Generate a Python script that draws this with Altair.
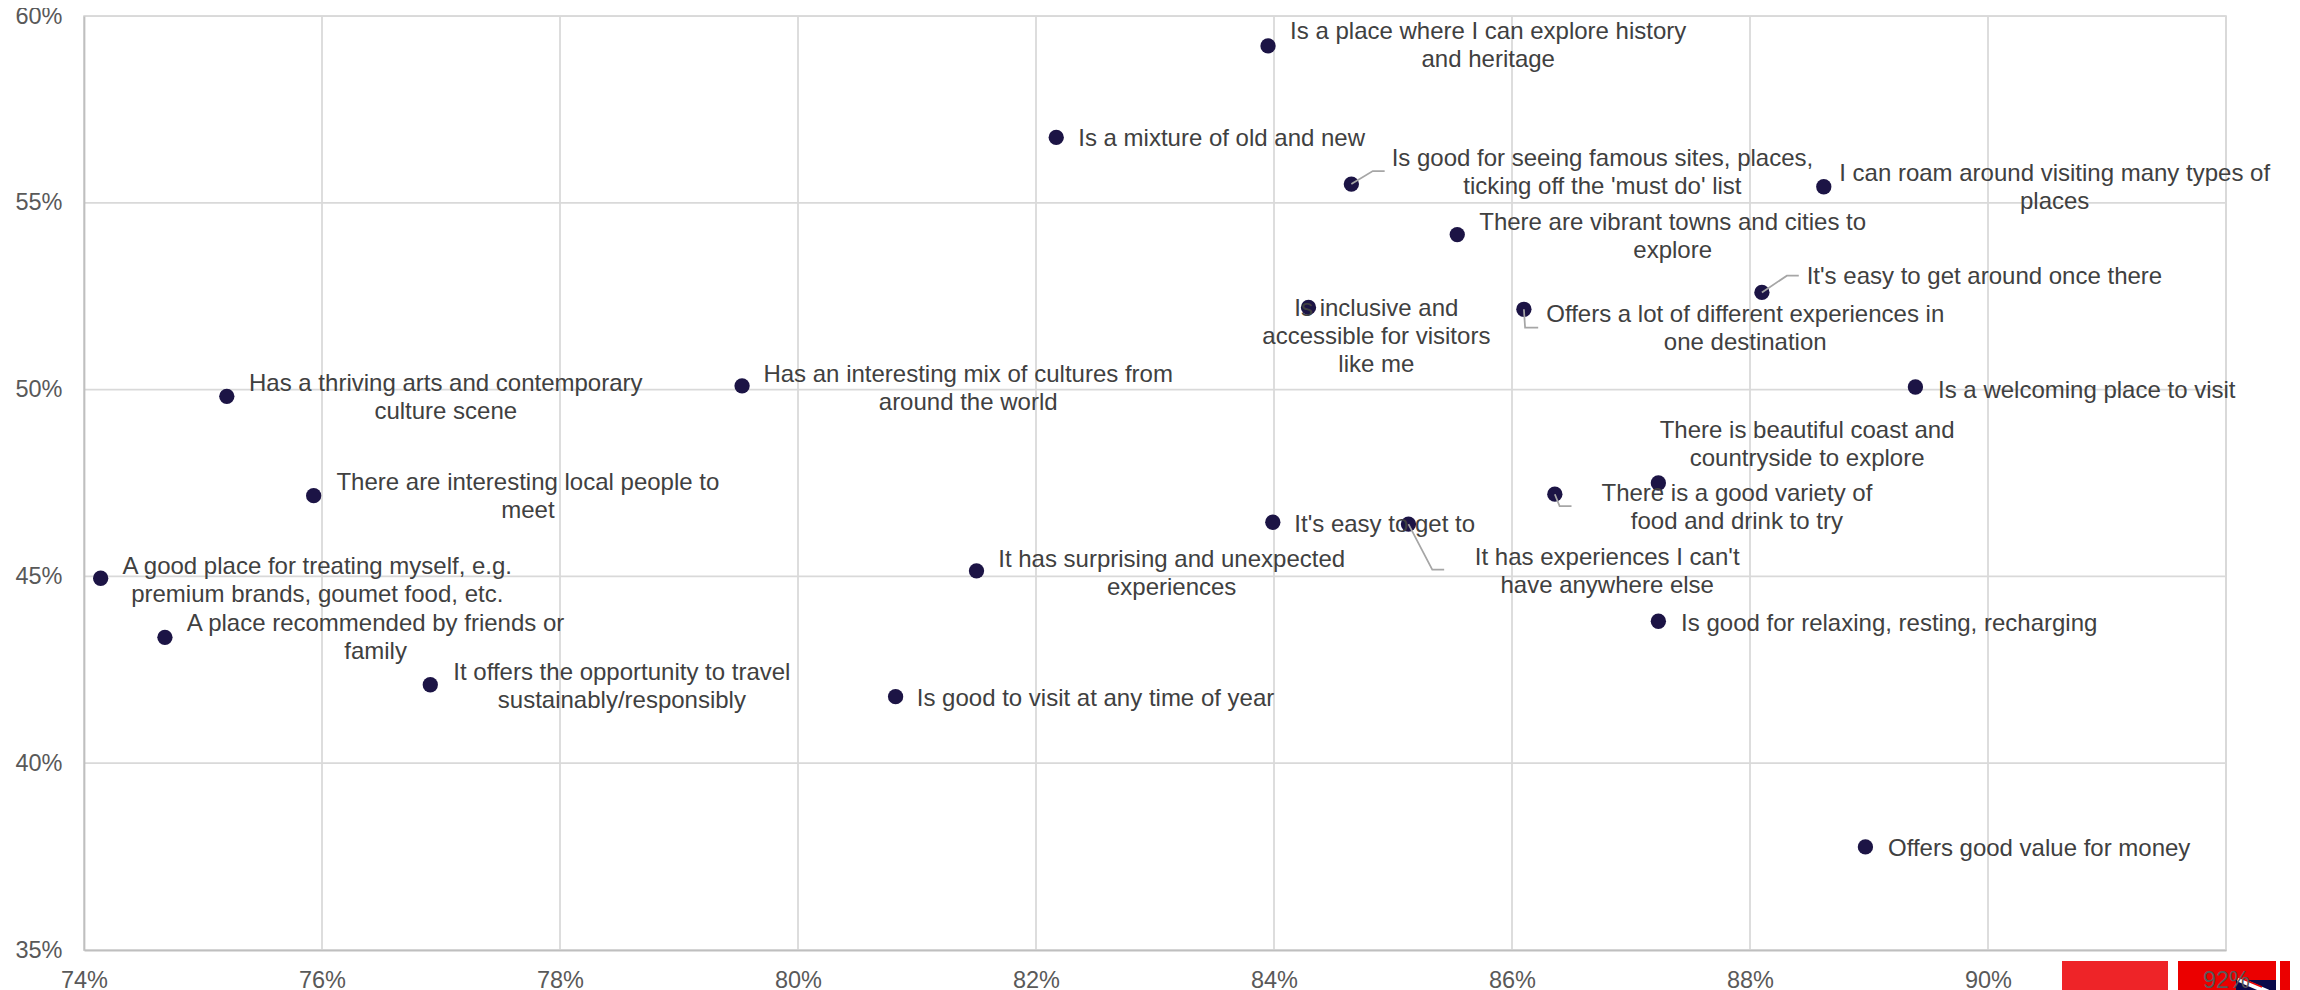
import altair as alt
import pandas as pd

labels = [
    "Is a place where I can explore history\nand heritage",
    "Is a mixture of old and new",
    "Is good for seeing famous sites, places,\nticking off the 'must do' list",
    "I can roam around visiting many types of\nplaces",
    "There are vibrant towns and cities to\nexplore",
    "It's easy to get around once there",
    "Is inclusive and\naccessible for visitors\nlike me",
    "Offers a lot of different experiences in\none destination",
    "Is a welcoming place to visit",
    "Has a thriving arts and contemporary\nculture scene",
    "Has an interesting mix of cultures from\naround the world",
    "There is beautiful coast and\ncountryside to explore",
    "There is a good variety of\nfood and drink to try",
    "There are interesting local people to\nmeet",
    "It's easy to get to",
    "It has experiences I can't\nhave anywhere else",
    "It has surprising and unexpected\nexperiences",
    "A good place for treating myself, e.g.\npremium brands, goumet food, etc.",
    "Is good for relaxing, resting, recharging",
    "A place recommended by friends or\nfamily",
    "It offers the opportunity to travel\nsustainably/responsibly",
    "Is good to visit at any time of year",
    "Offers good value for money",
]
x_vals = [83.95, 82.17, 84.65, 88.62, 85.54, 88.10, 84.29, 86.10, 89.39, 75.20, 79.53, 87.23,
          86.36, 75.93, 83.99, 85.13, 81.50, 74.14, 87.23, 74.68, 76.91, 80.82, 88.97]
y_vals = [59.20, 56.75, 55.50, 55.43, 54.15, 52.60, 52.20, 52.15, 50.07, 49.82, 50.10, 47.50,
          47.20, 47.16, 46.45, 46.40, 45.15, 44.95, 43.80, 43.37, 42.10, 41.78, 37.76]
label_x = [85.80, 83.56, 86.76, 90.56, 87.35, 89.97, 84.86, 87.96, 90.83, 77.04, 81.43, 88.48,
           87.89, 77.73, 84.93, 86.80, 83.14, 75.96, 89.17, 76.45, 78.52, 82.50, 90.43]
label_y = [59.61, 56.74, 56.20, 55.81, 54.51, 53.05, 52.19, 52.04, 50.00, 50.20, 50.43, 48.94,
           47.25, 47.53, 46.42, 45.53, 45.49, 45.29, 43.77, 43.76, 42.46, 41.77, 37.75]

leader_id = ["a", "a", "a", "b", "b", "b", "c", "c", "c", "d", "d", "d", "e", "e", "e"]
leader_x = [84.65, 84.83, 84.93, 88.10, 88.31, 88.41, 86.10, 86.11, 86.22, 86.36, 86.40, 86.50, 85.13, 85.33, 85.43]
leader_y = [55.50, 55.85, 55.85, 52.60, 53.05, 53.05, 52.15, 51.66, 51.66, 47.20, 46.88, 46.88, 46.40, 45.18, 45.18]
leader_order = [0, 1, 2] * 5

x_ticks = [74, 76, 78, 80, 82, 84, 86, 88, 90, 92]
y_ticks = [35, 40, 45, 50, 55, 60]

FONT = "Liberation Sans"
df = pd.DataFrame({"x": x_vals, "y": y_vals, "lx": label_x, "ly": label_y, "label": labels})
leaders = pd.DataFrame({"id": leader_id, "x": leader_x, "y": leader_y, "o": leader_order})

xs = alt.Scale(domain=[74, 92], nice=False, zero=False)
ys = alt.Scale(domain=[35, 60], nice=False, zero=False)
x_axis = alt.Axis(values=x_ticks, labelExpr="datum.value + '%'", title=None, tickSize=0, labelPadding=18,
                  grid=False, domainColor="#BFBFBF", domainWidth=1.75,
                  labelFontSize=23.5, labelFont=FONT, labelColor="#595959", zindex=1, labelFlush=False)
y_axis = alt.Axis(values=y_ticks, labelExpr="datum.value + '%'", title=None, tickSize=0, labelPadding=22,
                  grid=False, domainColor="#BFBFBF", domainWidth=1.75,
                  labelFontSize=23.5, labelFont=FONT, labelColor="#595959", zindex=1, labelFlush=False)

PLOT_X, PLOT_Y = 84, 16
def decor_rect(x0, x1, y0, y1, color):
    return alt.Chart(pd.DataFrame({"k": [0]})).mark_rect(color=color).encode(
        x=alt.value(x0 - PLOT_X), x2=alt.value(x1 - PLOT_X),
        y=alt.value(y0 - PLOT_Y), y2=alt.value(y1 - PLOT_Y))

def decor_rule(x0, x1, y0, y1, color, w):
    return alt.Chart(pd.DataFrame({"k": [0]})).mark_rule(color=color, strokeWidth=w).encode(
        x=alt.value(x0 - PLOT_X), x2=alt.value(x1 - PLOT_X),
        y=alt.value(y0 - PLOT_Y), y2=alt.value(y1 - PLOT_Y))

logo = [
    decor_rect(2062, 2168, 961, 990, "#EE2428"),
    decor_rect(2178, 2276, 961, 990, "#EB0000"),
    decor_rect(2280, 2290, 961, 990, "#EB0000"),
    decor_rect(2293, 2300, 961, 980, "#EB0000"),
    decor_rect(2236, 2276, 980, 990, "#0A0A4A"),
    decor_rect(2293, 2300, 980, 990, "#0A0A4A"),
    decor_rect(2178, 2236, 980, 990, "#EB0000"),
    decor_rule(2238, 2268, 979, 992, "#FFFFFF", 5),
    decor_rule(2238, 2262, 977, 987, "#EB0000", 1.5),
]

grid_x = alt.Chart(pd.DataFrame({"x": x_ticks})).mark_rule(color="#D9D9D9", strokeWidth=1.75).encode(
    x=alt.X("x:Q", scale=xs, axis=x_axis))
grid_y = alt.Chart(pd.DataFrame({"y": y_ticks})).mark_rule(color="#D9D9D9", strokeWidth=1.75).encode(
    y=alt.Y("y:Q", scale=ys, axis=y_axis))

base = alt.Chart(df)
points = base.mark_circle(size=234, color="#1C1445", opacity=1).encode(
    x=alt.X("x:Q", scale=xs), y=alt.Y("y:Q", scale=ys))
lead = alt.Chart(leaders).mark_line(color="#A6A6A6", strokeWidth=1.75).encode(
    x=alt.X("x:Q", scale=xs), y=alt.Y("y:Q", scale=ys), detail="id:N", order="o:O")
text = base.mark_text(font=FONT, fontSize=24, color="#404040", align="center", baseline="middle",
                      lineBreak="\n", lineHeight=28, dy=1.5).encode(
    x=alt.X("lx:Q", scale=xs), y=alt.Y("ly:Q", scale=ys), text="label:N")

chart = alt.layer(*logo, grid_x, grid_y, points, lead, text).properties(
    width=2142, height=934,
    padding={"left": 76, "top": 8, "right": 66, "bottom": 40},
    autosize=alt.AutoSizeParams(type="none"),
    background="#FFFFFF",
).configure_view(stroke="#D9D9D9", strokeWidth=1.75)

chart.save("out.html", embed_options={"renderer": "svg", "actions": False})
